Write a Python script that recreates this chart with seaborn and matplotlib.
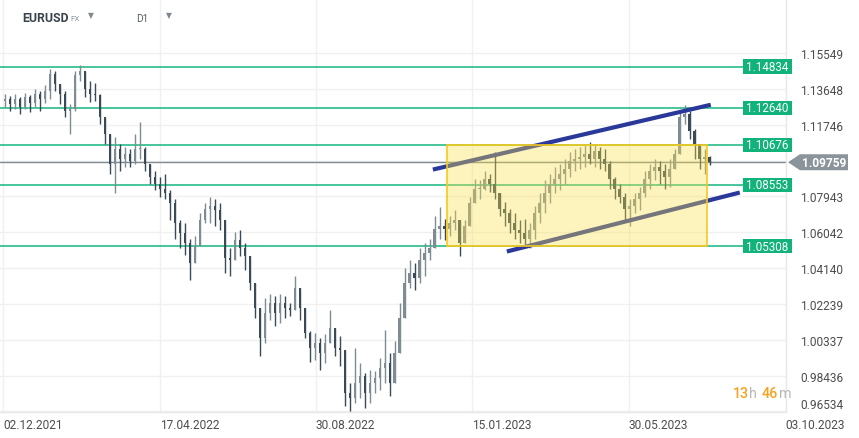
import numpy as np
import pandas as pd
import matplotlib
matplotlib.use('Agg')
import matplotlib.pyplot as plt
import matplotlib.transforms as mtransforms
from matplotlib.patches import Rectangle, Polygon
import seaborn as sns

# EURUSD D1 (one bar ~ every 5 px of the original)
high = [1.1339, 1.1329, 1.1339, 1.1323, 1.1345, 1.1334, 1.1366, 1.1355, 1.1387, 1.1472,
        1.1461, 1.1376, 1.1355, 1.1286, 1.1461, 1.1493, 1.1461, 1.1408, 1.1398, 1.1339,
        1.1217, 1.1127, 1.1112, 1.1074, 1.1059, 1.1048, 1.1127, 1.1191, 1.1059, 1.0969,
        1.0931, 1.0900, 1.0916, 1.0826, 1.0783, 1.0667, 1.0651, 1.0571, 1.0582, 1.0704,
        1.0757, 1.0794, 1.0783, 1.0757, 1.0651, 1.0518, 1.0608, 1.0614, 1.0545, 1.0465,
        1.0307, 1.0201, 1.0254, 1.0275, 1.0264, 1.0275, 1.0264, 1.0227, 1.0370, 1.0280,
        1.0201, 1.0079, 1.0068, 1.0042, 1.0063, 1.0190, 1.0042, 1.0052, 0.9909, 0.9803,
        0.9989, 0.9909, 0.9856, 0.9872, 0.9867, 0.9936, 1.0084, 0.9962, 1.0026, 1.0227,
        1.0412, 1.0455, 1.0439, 1.0518, 1.0545, 1.0571, 1.0688, 1.0736, 1.0677, 1.0693,
        1.0720, 1.0651, 1.0667, 1.0794, 1.0889, 1.0879, 1.0931, 1.0916, 1.1032, 1.0810,
        1.0767, 1.0730, 1.0704, 1.0667, 1.0677, 1.0651, 1.0741, 1.0810, 1.0879, 1.0916,
        1.0953, 1.0969, 1.0995, 1.1032, 1.1048, 1.1059, 1.1074, 1.1085, 1.1074, 1.1059,
        1.1048, 1.0984, 1.0900, 1.0863, 1.0810, 1.0783, 1.0810, 1.0847, 1.0931, 1.0969,
        1.0995, 1.0984, 1.0969, 1.0995, 1.1048, 1.1249, 1.1281, 1.1249, 1.1154, 1.1074,
        1.1048, 1.1011]
low = [1.1270, 1.1249, 1.1260, 1.1233, 1.1260, 1.1244, 1.1270, 1.1249, 1.1292, 1.1313,
       1.1355, 1.1286, 1.1217, 1.1127, 1.1249, 1.1408, 1.1323, 1.1297, 1.1302, 1.1180,
       1.1074, 1.0916, 1.0810, 1.0931, 1.0953, 1.0953, 1.0969, 1.0995, 1.0931, 1.0863,
       1.0826, 1.0794, 1.0783, 1.0667, 1.0571, 1.0518, 1.0481, 1.0349, 1.0455, 1.0545,
       1.0651, 1.0651, 1.0635, 1.0614, 1.0386, 1.0370, 1.0455, 1.0476, 1.0402, 1.0296,
       1.0148, 0.9946, 1.0015, 1.0137, 1.0105, 1.0121, 1.0148, 1.0158, 1.0227, 1.0137,
       1.0042, 0.9915, 0.9925, 0.9872, 0.9909, 1.0015, 0.9946, 0.9893, 0.9682, 0.9655,
       0.9697, 0.9724, 0.9671, 0.9697, 0.9750, 0.9766, 0.9803, 0.9734, 0.9883, 0.9978,
       1.0201, 1.0307, 1.0296, 1.0333, 1.0370, 1.0455, 1.0529, 1.0571, 1.0561, 1.0582,
       1.0614, 1.0476, 1.0571, 1.0651, 1.0757, 1.0783, 1.0826, 1.0820, 1.0783, 1.0688,
       1.0635, 1.0598, 1.0571, 1.0545, 1.0529, 1.0518, 1.0571, 1.0651, 1.0704, 1.0757,
       1.0810, 1.0826, 1.0863, 1.0900, 1.0931, 1.0942, 1.0953, 1.0969, 1.0953, 1.0942,
       1.0931, 1.0836, 1.0783, 1.0757, 1.0667, 1.0640, 1.0704, 1.0720, 1.0794, 1.0836,
       1.0879, 1.0863, 1.0836, 1.0847, 1.0953, 1.1022, 1.1180, 1.1101, 1.0995, 1.0942,
       1.0916, 1.0963]
close = [1.1313, 1.1286, 1.1313, 1.1270, 1.1323, 1.1292, 1.1339, 1.1313, 1.1355, 1.1445,
         1.1392, 1.1339, 1.1249, 1.1260, 1.1440, 1.1461, 1.1366, 1.1339, 1.1334, 1.1217,
         1.1127, 1.0969, 1.1048, 1.0995, 1.1022, 1.0984, 1.1048, 1.1048, 1.0969, 1.0900,
         1.0863, 1.0836, 1.0810, 1.0757, 1.0651, 1.0598, 1.0545, 1.0439, 1.0529, 1.0667,
         1.0730, 1.0741, 1.0720, 1.0667, 1.0465, 1.0455, 1.0561, 1.0518, 1.0476, 1.0333,
         1.0201, 1.0042, 1.0174, 1.0227, 1.0174, 1.0227, 1.0201, 1.0190, 1.0307, 1.0201,
         1.0068, 0.9989, 1.0015, 0.9962, 1.0015, 1.0095, 0.9989, 0.9978, 0.9750, 0.9724,
         0.9803, 0.9840, 0.9750, 0.9803, 0.9830, 0.9883, 0.9909, 0.9803, 0.9962, 1.0148,
         1.0333, 1.0386, 1.0360, 1.0455, 1.0492, 1.0518, 1.0624, 1.0635, 1.0624, 1.0651,
         1.0667, 1.0545, 1.0635, 1.0757, 1.0836, 1.0836, 1.0889, 1.0863, 1.0810, 1.0730,
         1.0704, 1.0651, 1.0614, 1.0598, 1.0571, 1.0614, 1.0704, 1.0757, 1.0810, 1.0863,
         1.0889, 1.0916, 1.0942, 1.0984, 1.0995, 1.1006, 1.1022, 1.0995, 1.1037, 1.0995,
         1.0969, 1.0889, 1.0836, 1.0794, 1.0730, 1.0741, 1.0783, 1.0810, 1.0889, 1.0931,
         1.0953, 1.0931, 1.0900, 1.0942, 1.1022, 1.1217, 1.1233, 1.1143, 1.1074, 1.0995,
         1.1006, 1.09759]
first_open = 1.1302

date_labels = ['02.12.2021', '17.04.2022', '30.08.2022', '15.01.2023', '30.05.2023', '03.10.2023']
date_pos = [-0.4, 31.0, 62.2, 93.4, 124.8, 156.2]
price_ticks = [1.15549, 1.13648, 1.11746, 1.09845, 1.07943, 1.06042,
               1.04140, 1.02239, 1.00337, 0.98436, 0.96534]
levels = [1.14834, 1.12640, 1.10676, 1.08553, 1.05308]
last_price = 1.09759
upper_x, upper_y = [85.6, 141.2], [1.0937, 1.1281]
lower_x, lower_y = [100.4, 147.0], [1.0502, 1.0815]
box_x, box_y = [88.4, 140.4], [1.05308, 1.10676]

sns.set_theme(style='white')
plt.rcParams['font.family'] = ['Roboto', 'DejaVu Sans']

W, H = 859, 439
fig = plt.figure(figsize=(W / 100, H / 100), dpi=100)
ax = fig.add_axes([0, 26 / H, 786 / W, 413 / H])

df = pd.DataFrame({'high': high, 'low': low, 'close': close})
df['open'] = df['close'].shift(1).fillna(first_open)
df['high'] = df[['high', 'open', 'close']].max(axis=1)
df['low'] = df[['low', 'open', 'close']].min(axis=1)
up = df['close'] >= df['open']
colors = np.where(up, '#7f8c93', '#3a4a56')

ax.vlines(df.index, df['low'], df['high'], colors=colors, lw=1.0, zorder=3)
body = (df['close'] - df['open']).abs().clip(lower=0.0003)
ax.bar(df.index, body, bottom=df[['open', 'close']].min(axis=1), width=0.55,
       color=colors, lw=0, zorder=3)

# support / resistance levels
for lv in levels:
    ax.axhline(lv, xmin=0, xmax=743 / 786, color='#16b57f', lw=1.1, zorder=2)
ax.axhline(last_price, xmin=0, xmax=1, color='#7f898f', lw=1.0, zorder=2)

# channel
sns.lineplot(x=upper_x, y=upper_y, ax=ax, color='#2a3899', lw=3, zorder=4,
             solid_capstyle='butt')
sns.lineplot(x=lower_x, y=lower_y, ax=ax, color='#2a3899', lw=3, zorder=4,
             solid_capstyle='butt')

# range box
ax.add_patch(Rectangle((box_x[0], box_y[0]), box_x[1] - box_x[0], box_y[1] - box_y[0],
                       facecolor='#fbe24a', alpha=0.36, lw=0, zorder=5))
ax.add_patch(Rectangle((box_x[0], box_y[0]), box_x[1] - box_x[0], box_y[1] - box_y[0],
                       facecolor='none', edgecolor='#f6c81e', lw=1.2, zorder=6))

ax.set_xlim(-1, 156.25)
ax.set_ylim(0.9650, 1.18425)

ax.set_xticks(date_pos)
ax.set_xticklabels(date_labels, ha='left')
ax.set_yticks(price_ticks)
ax.set_yticklabels(['' if t == 1.09845 else f'{t:.5f}' for t in price_ticks])
ax.yaxis.tick_right()
ax.tick_params(axis='y', length=0, pad=10, labelsize=8.6, labelcolor='#4d4d4d')
ax.tick_params(axis='x', length=0, pad=4, labelsize=8.6, labelcolor='#4d4d4d')
ax.get_yticklabels()[-1].set_va('bottom')
ax.grid(True, color='#f0f0f0', lw=1, zorder=0)
for s in ['top', 'left']:
    ax.spines[s].set_visible(False)
for s in ['right', 'bottom']:
    ax.spines[s].set_color('#e8e8e8')
    ax.spines[s].set_linewidth(1)

# level tags
tr = mtransforms.blended_transform_factory(fig.transFigure, ax.transData)
hpx = 413 / (1.18425 - 0.9650)
for lv in levels:
    ax.add_patch(Rectangle((743 / W, lv - 7.3 / hpx), 49 / W, 14.6 / hpx, transform=tr,
                           facecolor='#12b27b', lw=0, clip_on=False, zorder=7))
    ax.text(767.5 / W, lv, f'{lv:.5f}', transform=tr, ha='center', va='center',
            color='white', fontsize=8.4, zorder=8, clip_on=False)
badge = [(788 / W, last_price), (800 / W, last_price + 8 / hpx), (848 / W, last_price + 8 / hpx),
         (848 / W, last_price - 8 / hpx), (800 / W, last_price - 8 / hpx)]
ax.add_patch(Polygon(badge, closed=True, transform=tr, facecolor='#8a949a', lw=0,
                     clip_on=False, zorder=7))
ax.text(824 / W, last_price, f'{last_price:.5f}', transform=tr, ha='center', va='center',
        color='white', fontsize=8.6, fontweight='bold', zorder=8, clip_on=False)

# header
fig.text(22 / W, 1 - 19 / H, 'EURUSD', fontsize=8.8, fontweight='bold', color='#38434b',
         va='center')
fig.text(70.5 / W, 1 - 19 / H, 'FX', fontsize=5.8, color='#8d959b', va='center')
fig.text(91 / W, 1 - 16 / H, '▼', fontsize=5.5, color='#80888e', va='center', ha='center',
         family='DejaVu Sans')
fig.text(136 / W, 1 - 19 / H, 'D1', fontsize=7.2, color='#555c62', va='center')
fig.text(168.5 / W, 1 - 16 / H, '▼', fontsize=5.5, color='#80888e', va='center', ha='center',
         family='DejaVu Sans')

# countdown
y_cd = 1 - 394 / H
for xp, s, c, fw in [(733, '13', '#f6a21e', 'medium'), (749, 'h', '#b8b8b8', 'normal'),
                     (761.5, '46', '#f6a21e', 'medium'), (779.5, 'm', '#b8b8b8', 'normal')]:
    fig.text(xp / W, y_cd, s, fontsize=10.3, color=c, va='center', fontweight=fw)

fig.savefig('out.png', dpi=100, facecolor='white')
